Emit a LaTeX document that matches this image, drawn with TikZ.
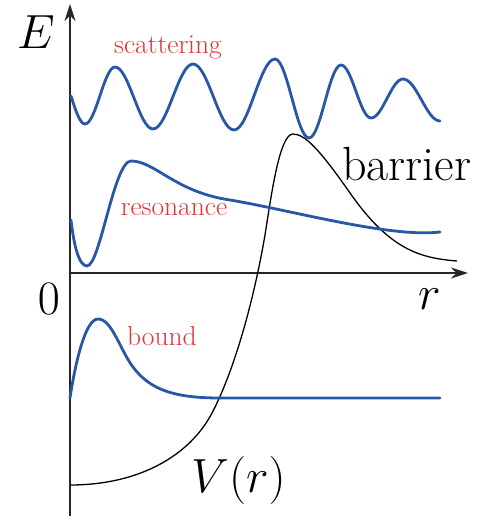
\RequirePackage{fix-cm}
\documentclass[tikz,border=0pt]{standalone}
\usepackage{amsmath}
\usepackage{tikz}
\usetikzlibrary{arrows.meta}
\usepackage{xcolor}
\definecolor{wave}{HTML}{2757A6}
\definecolor{tagred}{HTML}{E53238}

\begin{document}
\begin{tikzpicture}[x=1pt,y=-1pt,
  wavefn/.style={wave,line width=2.8pt,line cap=round},
  axis/.style={black!85,line width=1.8pt,-{Stealth[length=17pt,width=11pt]}},
  statelbl/.style={tagred,font=\fontsize{27.5}{28}\selectfont,inner sep=0pt},
  big/.style={font=\fontsize{48}{48}\selectfont,inner sep=0pt}]
  \useasboundingbox (0,0) rectangle (487,516);
  % axes
  \coordinate (origin) at (70,273);
  \coordinate (ebot) at (70,516);
  \coordinate (etop) at (70,4);
  \coordinate (rend) at (468,273);
  \draw[axis] (ebot) -- (etop);
  \draw[axis] (origin) -- (rend);
  \node[big] (elabel) at (36,32) {$E$};
  \node[big] (zero) at (49,299) {$0$};
  \node[big,anchor=base] (rlabel) at (430,309) {$r$};
  % potential
  \draw[black,line width=1.3pt] (70,485) .. controls (140,485) and (190,455) .. (212,413)
    .. controls (232,375) and (252,310) .. (265,235)
    .. controls (272,190) and (280,134) .. (293,134)
    .. controls (305,134) and (320,150) .. (350,193)
    .. controls (390,250) and (420,258) .. (457,261);
  \node[font=\fontsize{48}{48}\selectfont,inner sep=0pt,anchor=base west] (barrier) at (342,180) {barrier};
  \node[big,anchor=base west] (vlabel) at (191,492) {$V(r)$};
  % scattering state
  \draw[wavefn] (71,96) sin (85,124) cos (100,95.5) sin (115,67) cos (134,98) sin (153,129)
    cos (173,96.5) sin (193,64) cos (213.5,97) sin (234,130) cos (254.5,94.5) sin (275,59)
    cos (292,98.5) sin (309,138) cos (325,101.5) sin (341,65) cos (356,91.5) sin (371,118)
    cos (387,98.5) sin (403,79) cos (421.5,100) sin (440,121);
  \node[statelbl] (scat) at (168,47) {scattering};
  % resonance
  \draw[wavefn] (71,220) .. controls (74,246) and (79,266) .. (87,266)
    .. controls (100,266) and (114,161) .. (131,161)
    .. controls (155,161) and (175,192) .. (230,200)
    .. controls (290,210) and (390,238) .. (440,232);
  \node[statelbl] (reso) at (174,210) {resonance};
  % bound state
  \draw[wavefn] (70,398) .. controls (75,365) and (85,319) .. (98,319)
    .. controls (112,319) and (120,350) .. (133,367)
    .. controls (150,390) and (175,398) .. (220,398) -- (440,398);
  \node[statelbl] (bnd) at (162,336) {bound};
\end{tikzpicture}
\end{document}
